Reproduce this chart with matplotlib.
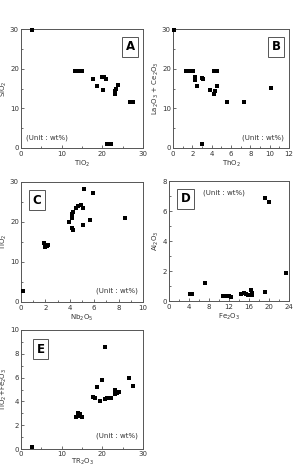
import matplotlib
matplotlib.use("Agg")
import matplotlib.pyplot as plt
from matplotlib.ticker import MultipleLocator

# Panel A: TiO2 vs SiO2
a_x = [2.8, 13.4, 13.8, 14.2, 14.6, 15.0, 17.8, 18.8, 19.8, 20.4, 20.9, 20.2, 23.1, 23.1, 23.3, 23.9, 26.8, 27.6, 21.2, 22.1]
a_y = [29.8, 19.4, 19.5, 19.4, 19.5, 19.5, 17.3, 15.6, 18.0, 17.8, 17.3, 14.6, 13.7, 14.3, 14.8, 15.9, 11.5, 11.6, 1.0, 1.1]

# Panel B: ThO2 vs La2O3+Ce2O3
b_x = [0.14, 1.3, 1.6, 1.9, 2.1, 2.3, 2.3, 2.5, 2.96, 3.1, 3.0, 3.8, 4.2, 4.3, 4.2, 4.6, 4.6, 5.6, 7.3, 10.1]
b_y = [29.8, 19.4, 19.5, 19.4, 19.4, 18.0, 17.2, 15.6, 17.7, 17.4, 1.0, 14.7, 13.7, 14.4, 19.3, 19.5, 15.7, 11.5, 11.5, 15.1]

# Panel C: Nb2O5 vs TiO2
c_x = [0.19, 1.9, 1.95, 2.0, 2.1, 2.2, 3.96, 4.15, 4.2, 4.24, 4.2, 4.3, 4.5, 4.7, 4.9, 5.1, 5.1, 5.2, 5.66, 5.9, 8.5]
c_y = [2.75, 14.8, 13.8, 14.3, 14.0, 14.2, 20.1, 20.9, 22.0, 22.6, 18.4, 18.0, 23.4, 24.0, 24.3, 23.4, 19.25, 28.2, 20.5, 27.2, 20.9]

# Panel D: Fe2O3 vs Al2O3
d_x = [4.2, 4.67, 7.2, 10.7, 11.3, 11.9, 12.4, 14.4, 15.0, 15.4, 15.7, 16.4, 16.5, 16.6, 19.2, 19.2, 19.9, 23.3]
d_y = [0.47, 0.47, 1.18, 0.33, 0.33, 0.33, 0.30, 0.47, 0.55, 0.45, 0.38, 0.75, 0.55, 0.40, 0.60, 6.9, 6.6, 1.84]

# Panel E: TR2O3 vs TiO2+Fe2O3
e_x = [2.8, 13.5, 13.9, 14.3, 14.6, 14.9, 17.6, 18.2, 18.8, 19.4, 20.0, 20.6, 20.6, 21.2, 21.7, 22.2, 23.1, 23.1, 23.5, 24.0, 26.6, 27.6]
e_y = [0.2, 2.7, 3.0, 2.8, 2.9, 2.7, 4.4, 4.3, 5.2, 4.0, 5.8, 8.6, 4.2, 4.3, 4.25, 4.3, 5.0, 4.6, 4.7, 4.8, 6.0, 5.3]

W, H = 295, 467
fig = plt.figure(figsize=(W / 100, H / 100), dpi=100)
fig.patch.set_facecolor("white")


def rect(x0, y0, x1, y1):
    return [x0 / W, 1 - y1 / H, (x1 - x0) / W, (y1 - y0) / H]


FS = 5.0
EDGE = "#555555"


def panel(r, x, y, xlim, ylim, xmaj, xmin, ymaj, ymin, xlabel, ylabel,
          letter, lpos, upos, uha, xlp=1.5, xpad=2):
    ax = fig.add_axes(rect(*r))
    ax.plot(x, y, "s", color="black", markersize=3.2, markeredgewidth=0,
            clip_on=False, zorder=5)
    ax.set_xlim(*xlim)
    ax.set_ylim(*ylim)
    ax.xaxis.set_major_locator(MultipleLocator(xmaj))
    ax.xaxis.set_minor_locator(MultipleLocator(xmin))
    ax.yaxis.set_major_locator(MultipleLocator(ymaj))
    ax.yaxis.set_minor_locator(MultipleLocator(ymin))
    ax.tick_params(which="both", direction="in", labelsize=FS, colors=EDGE,
                   labelcolor="#333333", width=0.6, pad=xpad)
    ax.tick_params(axis="y", which="both", pad=1.5)
    ax.tick_params(which="major", length=2.5)
    ax.tick_params(which="minor", length=1.5)
    for s in ax.spines.values():
        s.set_color(EDGE)
        s.set_linewidth(0.7)
    ax.set_xlabel(xlabel, fontsize=FS, color="#333333", labelpad=xlp)
    ax.set_ylabel(ylabel, fontsize=FS, color="#333333", labelpad=0.8)
    ax.text(lpos[0], lpos[1], letter, transform=ax.transAxes, fontsize=8.5,
            fontweight="bold", ha="center", va="center",
            bbox=dict(boxstyle="square,pad=0.3", fc="white", ec=EDGE, lw=0.7))
    ax.text(upos[0], upos[1], "(Unit : wt%)", transform=ax.transAxes,
            fontsize=FS, ha=uha, va="center", color="#333333")
    return ax


panel((21, 29, 143, 148), a_x, a_y, (0, 30), (0, 30), 10, 5, 10, 5,
      "TiO$_2$", "SiO$_2$", "A", (0.895, 0.85), (0.04, 0.09), "left")
panel((173, 29, 289, 148), b_x, b_y, (0, 12), (0, 30), 2, 1, 10, 5,
      "ThO$_2$", "La$_2$O$_3$ + Ce$_2$O$_3$", "B", (0.89, 0.85), (0.96, 0.09), "right")
panel((21, 182, 143, 302), c_x, c_y, (0, 10), (0, 30), 2, 1, 10, 5,
      "Nb$_2$O$_5$", "TiO$_2$", "C", (0.13, 0.85), (0.96, 0.09), "right")
panel((169, 181, 289, 301), d_x, d_y, (0, 24), (0, 8), 4, 2, 2, 1,
      "Fe$_2$O$_3$", "Al$_2$O$_3$", "D", (0.14, 0.85), (0.28, 0.9), "left")
panel((21, 330, 143, 449), e_x, e_y, (0, 30), (0, 10), 10, 5, 2, 1,
      "TR$_2$O$_3$", "TiO$_2$+Fe$_2$O$_3$", "E", (0.16, 0.84), (0.96, 0.11), "right",
      xlp=0.0, xpad=1.2)

fig.savefig("out.png", dpi=100, facecolor="white")
